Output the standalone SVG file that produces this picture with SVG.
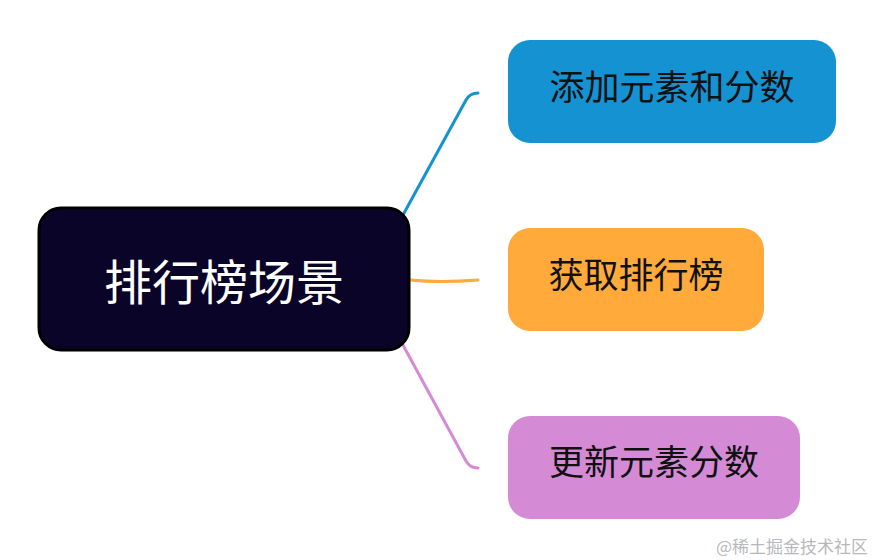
<svg xmlns="http://www.w3.org/2000/svg" width="876" height="560" viewBox="0 0 876 560">
<style>
.t{font-family:"Noto Sans CJK SC","Noto Sans",sans-serif;font-size:35px;fill:#111;text-anchor:middle;dominant-baseline:central}
.c{fill:none;stroke-width:3;stroke-linecap:round}
</style>
<rect width="876" height="560" fill="#fff"/>
<g id="connectors">
<path class="c" stroke="#1592d2" d="M403,215 L466,100 Q470,93 478,93"/>
<path class="c" stroke="#ffaa3a" d="M410,280 Q440,283 478,280"/>
<path class="c" stroke="#d58ad6" d="M403,345 L466,461 Q470,468 478,468"/>
</g>
<g id="root">
<rect x="39" y="208" width="370" height="142" rx="22" fill="#0a0428" stroke="#000" stroke-width="3"/>
<text x="224" y="279" class="t" style="fill:#fff;font-size:48px">排行榜场景</text>
</g>
<g id="n1">
<rect x="508" y="40" width="328" height="103" rx="22" fill="#1592d2"/>
<text x="672" y="84" class="t">添加元素和分数</text>
</g>
<g id="n2">
<rect x="508" y="228" width="256" height="103" rx="22" fill="#ffaa3a"/>
<text x="636" y="272" class="t">获取排行榜</text>
</g>
<g id="n3">
<rect x="508" y="416" width="292" height="103" rx="22" fill="#d58ad6"/>
<text x="654" y="459" class="t">更新元素分数</text>
</g>
<text x="868" y="545" style="font-family:'Noto Sans CJK SC',sans-serif;font-size:17px;fill:#b8b8bc;text-anchor:end;dominant-baseline:central">@稀土掘金技术社区</text>
</svg>
